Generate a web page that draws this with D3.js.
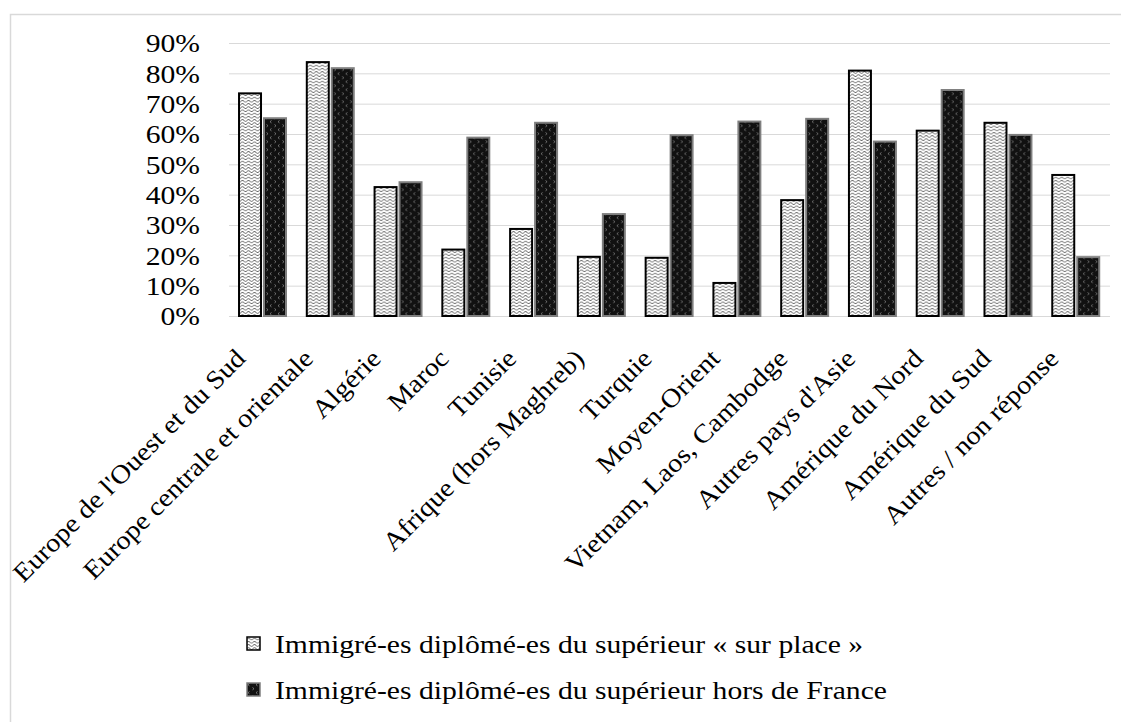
<!DOCTYPE html>
<html><head><meta charset="utf-8">
<script src="https://cdn.jsdelivr.net/npm/d3@7"></script>
<style>html,body{margin:0;padding:0;background:#fff;}svg{display:block;}</style>
</head><body>
<svg id="c" width="1121" height="722"></svg>
<script>
const categories = ["Europe de l'Ouest et du Sud","Europe centrale et orientale","Algérie","Maroc","Tunisie","Afrique (hors Maghreb)","Turquie","Moyen-Orient","Vietnam, Laos, Cambodge","Autres pays d'Asie","Amérique du Nord","Amérique du Sud","Autres / non réponse"];
const seriesNames = ["Immigré-es diplômé-es du supérieur « sur place »","Immigré-es diplômé-es du supérieur hors de France"];
const surPlace = [0.734,0.837,0.425,0.219,0.287,0.195,0.192,0.109,0.382,0.809,0.611,0.637,0.465];
const horsFrance = [0.652,0.817,0.441,0.588,0.637,0.336,0.596,0.641,0.650,0.575,0.745,0.597,0.194];
const yTicks = [0,0.1,0.2,0.3,0.4,0.5,0.6,0.7,0.8,0.9];

const FONT = "'Liberation Serif', serif";
const FS = 26, SX = 1.14, SXL = 1.09;
const svg = d3.select("#c");
const defs = svg.append("defs");

// light pattern: wavy lines
const p1 = defs.append("pattern").attr("id","pLight").attr("patternUnits","userSpaceOnUse").attr("width",6).attr("height",3.2);
p1.append("rect").attr("width",6).attr("height",3.2).attr("fill","#fff");
p1.append("path").attr("d","M0,2 Q1.5,0.4 3,2 T6,2").attr("fill","none").attr("stroke","#555").attr("stroke-width",0.85);
// dark pattern: black with gray marks
const p2 = defs.append("pattern").attr("id","pDark").attr("patternUnits","userSpaceOnUse").attr("width",8).attr("height",8);
p2.append("rect").attr("width",8).attr("height",8).attr("fill","#111");
p2.append("path").attr("d","M2.5,0.5 L1,1.7 L2.5,2.9 M5.5,4.5 L7,5.7 L5.5,6.9").attr("fill","none").attr("stroke","#8a8a8a").attr("stroke-width",0.8);

// outer frame
svg.append("rect").attr("x",10.5).attr("y",14.5).attr("width",1130).attr("height",730)
  .attr("fill","none").attr("stroke","#d9d9d9").attr("stroke-width",1.5);

const x0 = d3.scaleBand().domain(categories).range([229,1110]).padding(0);
const bw = x0.bandwidth();
const x1 = d3.scaleBand().domain([0,1]).range([bw*0.148, bw*0.841]).paddingInner(0.12);
const y = d3.scaleLinear().domain([0,0.9]).range([316,43]);

// gridlines
svg.append("g").selectAll("line").data(yTicks).join("line")
  .attr("x1",229).attr("x2",1110).attr("y1",d=>y(d)+0.5).attr("y2",d=>y(d)+0.5)
  .attr("stroke","#d9d9d9").attr("stroke-width",1);

// y axis labels
const yAxis = d3.axisLeft(y).tickValues(yTicks).tickFormat(d3.format(".0%")).tickSize(0).tickPadding(0);
const yg = svg.append("g").attr("transform","translate(200,0)").call(yAxis);
yg.select(".domain").remove();
yg.selectAll("text").attr("font-family",FONT).attr("font-size",FS).attr("fill","#000")
  .attr("x",0).attr("dy","0.34em").attr("transform",`scale(${SX},1)`);

// bars
const groups = svg.append("g").selectAll("g").data(categories).join("g")
  .attr("transform",d=>`translate(${x0(d)},0)`);
groups.append("rect")
  .attr("x",x1(0)).attr("width",x1.bandwidth())
  .attr("y",(d,i)=>y(surPlace[i])).attr("height",(d,i)=>y(0)-y(surPlace[i]))
  .attr("fill","url(#pLight)").attr("stroke","#000").attr("stroke-width",2);
groups.append("rect")
  .attr("x",x1(1)).attr("width",x1.bandwidth())
  .attr("y",(d,i)=>y(horsFrance[i])).attr("height",(d,i)=>y(0)-y(horsFrance[i]))
  .attr("fill","url(#pDark)").attr("stroke","#7f7f7f").attr("stroke-width",2);

// x axis labels
const xAxis = d3.axisBottom(x0).tickSize(0).tickPadding(0);
const xg = svg.append("g").attr("transform","translate(0,316)").call(xAxis);
xg.select(".domain").remove();
xg.selectAll("text")
  .attr("font-family",FONT).attr("font-size",FS).attr("fill","#000")
  .attr("text-anchor","end").attr("dy",null).attr("y",0)
  .attr("transform",`translate(-16,44) rotate(-45) scale(${SXL},1)`);

// legend
const leg = svg.append("g").selectAll("g").data(seriesNames).join("g")
  .attr("transform",(d,i)=>`translate(247,${637+i*46})`);
leg.append("rect").attr("width",13).attr("height",13)
  .attr("fill",(d,i)=>i===0?"url(#pLight)":"url(#pDark)")
  .attr("stroke",(d,i)=>i===0?"#000":"#7f7f7f").attr("stroke-width",1.5);
leg.append("text").attr("x",0).attr("y",6.5).attr("dy","0.35em")
  .attr("transform",`translate(28,0) scale(${SX},1)`)
  .attr("font-family",FONT).attr("font-size",FS).attr("fill","#000").text(d=>d);
</script>
</body></html>
